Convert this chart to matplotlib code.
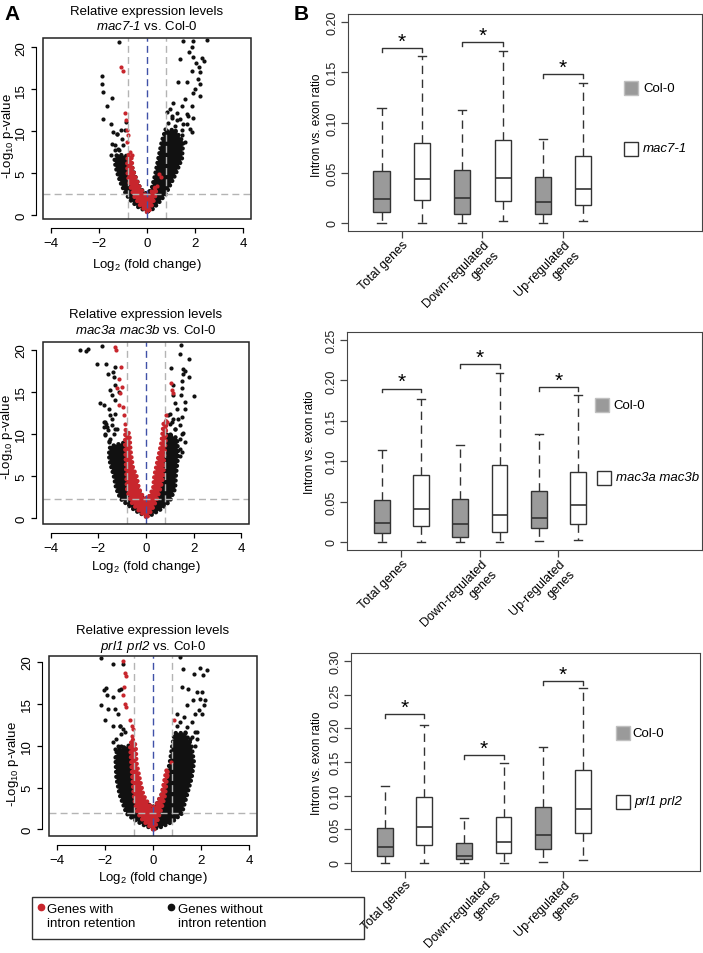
import matplotlib
matplotlib.use('Agg')
import matplotlib.pyplot as plt
from matplotlib.patches import Rectangle

plt.rcParams['font.family'] = ['Liberation Sans', 'DejaVu Sans']
plt.rcParams['mathtext.fontset'] = 'custom'
plt.rcParams['mathtext.rm'] = 'Liberation Sans'
plt.rcParams['mathtext.sf'] = 'Liberation Sans:italic'

# ---- volcano data (log2 fold change, -log10 p) ----
# scattered points
v1_black_x = [-1.16, -1.85, -1.87, -1.84, -1.44, -1.65, -1.83, -0.87, -1.26, -1.05, -1.33, -1.16, -0.91, -1.5,
              -1.49, -1.4, -1.26, -1.08, -1.46, -1.35, -1.19, -0.98, -1.3,
              1.51, 1.89, 2.5, 1.85, 1.74, 1.37, 1.89, 2.27, 2.37, 2.03, 2.17, 2.22, 1.85, 2.13, 2.2, 1.65, 1.3,
              2.0, 1.92, 2.2, 1.58, 1.09, 1.44, 1.85, 0.95, 1.23, 1.65, 1.02, 1.37, 1.92, 0.89, 1.65, 1.16, 1.44,
              0.82, 1.85, 1.02, 0.82, 1.02, 1.23, 1.51, 1.71, 0.75, 1.16, 1.44, 1.78, 0.88, 1.58]
v1_black_y = [20.6, 16.6, 15.6, 14.7, 13.9, 13.0, 11.5, 11.1, 9.7, 9.1, 8.3, 7.7, 10.1, 7.1,
              10.9, 9.9, 9.6, 10.1, 8.5, 7.7, 7.9, 8.3, 7.1,
              20.7, 20.8, 20.9, 20.0, 19.4, 18.6, 18.8, 18.7, 18.4, 18.1, 17.6, 17.0, 17.2, 16.2, 15.6, 15.8, 15.8,
              15.0, 14.6, 14.2, 13.8, 13.4, 13.0, 13.0, 12.6, 12.2, 12.0, 11.6, 11.4, 11.6, 11.0, 10.9, 10.6, 10.1,
              9.9, 9.9, 9.5, 12.3, 11.8, 11.3, 10.9, 11.8, 10.3, 9.9, 9.5, 10.3, 8.9, 8.7]
v1_red_x = [-1.09, -0.98, -0.91, -0.87, -0.84, -0.77, -0.82, -0.71, -0.64, 0.51, 0.57, 0.4]
v1_red_y = [17.6, 17.2, 12.2, 11.3, 10.1, 9.5, 8.7, 7.5, 7.1, 4.9, 4.5, 3.5]
# outlines of the dense point clouds
v1_benv_x = [0, -0.4, -0.7, -0.87, -1.05, -1.2, -1.3, -1.35, -1.2, -0.75, -0.6, -0.45, -0.3, -0.1, 0.05,
             0.2, 0.33, 0.47, 0.61, 0.75, 1.15, 1.5, 1.45, 1.16, 0.95, 0.78, 0.5, 0.2]
v1_benv_y = [0.4, 1.0, 1.8, 2.5, 3.5, 4.7, 5.7, 6.7, 7.2, 7.0, 5.5, 4.3, 3.3, 2.6, 2.6,
             3.2, 4.7, 6.7, 8.7, 10.0, 10.2, 8.7, 6.7, 4.7, 3.5, 2.5, 1.5, 0.6]
v1_renv_x = [0, -0.3, -0.55, -0.7, -0.8, -0.82, -0.8, -0.65, -0.6, -0.45, -0.3, -0.12, 0.05, 0.2, 0.35, 0.38,
             0.25, 0.08]
v1_renv_y = [0.35, 1.2, 2.3, 3.5, 4.8, 6.0, 7.2, 7.0, 5.5, 4.3, 3.3, 2.5, 2.2, 2.8, 3.3, 2.6, 1.5, 0.4]

v2_black_x = [-2.77, -2.53, -2.43, -2.04, -1.84, -1.66, -1.28, -1.38, -1.6, -1.35, -1.28, -1.49, -1.14, -1.42,
              -1.91, -1.77, -1.28, -1.56, -1.28, -1.49, -1.74, -1.66, -1.42, -1.77, -1.21, -1.6, -1.35, -1.7,
              -1.49, -1.56, -1.76, -1.63, -1.42, -1.7, -1.28, -1.56, -1.35, -1.49,
              1.47, 1.43, 1.82, 1.04, 1.54, 1.64, 1.57, 1.82, 1.5, 2.03, 1.15, 1.5, 1.15, 1.47, 1.64, 1.22, 1.29,
              1.64, 1.02, 1.5, 1.15, 1.02, 1.43, 1.22, 1.57, 1.02, 1.43, 1.64, 1.5, 1.43,
              0.94, 1.08, 1.22, 1.36, 1.5, 1.22, 1.43, 1.15]
v2_black_y = [19.9, 19.8, 20.1, 18.3, 20.4, 18.3, 17.9, 17.3, 17.1, 16.7, 15.8, 15.2, 15.0, 14.6,
              13.6, 13.4, 14.0, 13.0, 12.4, 12.2, 11.4, 11.2, 11.0, 10.8, 10.6, 10.4, 10.0, 9.8,
              9.4, 9.0, 11.4, 10.8, 11.8, 10.0, 10.6, 9.2, 8.6, 7.8,
              20.5, 19.5, 18.9, 17.8, 17.7, 17.5, 17.1, 16.7, 16.3, 14.5, 15.8, 15.4, 14.6, 14.6, 13.8, 13.6, 13.0,
              13.0, 12.4, 12.0, 11.8, 11.2, 11.0, 10.6, 10.1, 10.0, 9.4, 9.0, 7.8, 7.4,
              12.2, 11.4, 10.6, 11.8, 10.0, 9.0, 8.2, 7.4]
v2_red_x = [-1.28, -1.24, -1.04, -1.14, -1.21, -1.0, -1.07, -1.14, -0.96, -0.93, -0.86, -0.9, -0.79,
            1.04, 1.08, 1.13, 0.85, 0.88, 0.81, 0.74]
v2_red_y = [20.3, 19.9, 17.9, 16.5, 15.4, 15.6, 14.8, 13.4, 13.2, 12.2, 11.2, 10.0, 9.2,
            16.0, 15.2, 14.8, 12.2, 11.4, 10.6, 9.6]
v2_benv_x = [0, -0.4, -0.75, -1.07, -1.25, -1.35, -1.5, -1.56, -1.5, -0.85, -0.7, -0.55, -0.35, -0.15, 0,
             0.15, 0.35, 0.55, 0.7, 0.8, 0.9, 1.3, 1.35, 1.25, 1.22, 1.0, 0.6, 0.25]
v2_benv_y = [0.2, 0.8, 1.5, 2.3, 3.5, 5.0, 6.5, 7.5, 8.5, 9.0, 7.0, 5.0, 3.5, 2.5, 2.3,
             2.5, 3.5, 5.0, 7.0, 9.0, 10.0, 9.5, 7.5, 5.0, 3.5, 2.0, 1.0, 0.4]
v2_renv_x = [0, -0.35, -0.65, -0.8, -0.82, -0.85, -0.88, -0.85, -0.7, -0.65, -0.55, -0.4, -0.3, -0.12, 0,
             0.12, 0.3, 0.35, 0.5, 0.65, 0.75, 0.85, 0.82, 0.75, 0.73, 0.6, 0.45, 0.25, 0.06]
v2_renv_y = [0.15, 1.0, 2.0, 3.5, 5.0, 7.0, 9.0, 10.5, 10.0, 8.0, 6.0, 5.0, 3.5, 2.5, 2.3,
             2.5, 3.5, 5.0, 7.0, 9.0, 11.5, 11.5, 9.0, 7.0, 5.0, 3.5, 2.2, 1.0, 0.15]

v3_black_x = [-2.14, -1.68, -1.24, -1.96, -2.04, -1.4, -1.31, -1.93, -1.66, -2.14, -1.86, -1.59, -2.0, -1.45,
              -1.66, -1.38, -1.24, -1.66, -1.45, -1.59, -1.31, -1.45, -1.52,
              -1.52, -1.31, -1.45, -1.17, -1.38, -1.59,
              1.13, 1.24, 1.96, 2.24, 1.72, 2.07, 1.2, 1.47, 1.82, 2.03, 1.96, 2.17, 1.68, 2.13, 1.4, 1.89, 1.75,
              2.03, 1.27, 0.99, 1.13, 1.61, 1.4, 1.75, 1.2, 1.54, 1.82, 0.99, 1.34,
              0.99, 1.34, 1.62, 1.2, 1.76, 1.48, 1.83, 1.06]
v3_black_y = [20.5, 19.8, 19.8, 16.9, 16.7, 16.6, 16.8, 16.0, 15.8, 14.8, 14.4, 14.4, 13.1, 13.8,
              12.4, 12.4, 12.0, 10.4, 10.0, 9.6, 11.4, 8.6, 8.0,
              10.8, 10.0, 9.2, 11.6, 12.4, 8.7,
              20.6, 19.1, 19.3, 19.0, 18.6, 18.4, 17.0, 16.8, 16.4, 16.4, 15.6, 15.5, 15.4, 14.8, 14.8, 14.2, 13.8,
              13.8, 13.4, 13.8, 12.8, 12.8, 12.2, 11.6, 11.2, 10.8, 10.8, 10.4, 10.0,
              12.4, 11.6, 11.0, 10.4, 10.0, 9.2, 11.6, 8.8]
v3_red_x = [-1.24, -1.17, -1.13, -1.21, -1.24, -1.17, -1.13, -0.96, -0.89, -0.82, -0.89, -0.93, 0.88, 0.74, 0.57]
v3_red_y = [20.1, 18.7, 18.3, 17.0, 16.0, 15.0, 14.6, 13.0, 12.4, 12.0, 11.2, 10.4, 13.1, 8.0, 6.5]
v3_benv_x = [0, -0.45, -0.85, -1.1, -1.38, -1.52, -1.55, -1.5, -1.0, -0.85, -0.7, -0.5, -0.3, -0.1, 0,
             0.15, 0.35, 0.55, 0.7, 0.8, 0.9, 1.35, 1.6, 1.7, 1.6, 1.41, 1.2, 0.8, 0.35]
v3_benv_y = [0.05, 0.6, 1.3, 1.9, 4.1, 6.1, 8.1, 9.5, 10.0, 8.0, 6.0, 4.1, 3.2, 2.8, 2.7,
             3.0, 4.1, 6.0, 8.0, 10.0, 11.5, 11.5, 10.0, 8.0, 6.1, 4.1, 1.9, 0.9, 0.3]
v3_renv_x = [0, -0.4, -0.65, -0.75, -0.8, -0.85, -0.9, -0.95, -0.85, -0.72, -0.69, -0.55, -0.4, -0.22, -0.05,
             0.08, 0.2, 0.35, 0.45, 0.55, 0.62, 0.55, 0.5, 0.35, 0.2, 0.05]
v3_renv_y = [0.0, 1.0, 2.0, 3.2, 4.1, 6.0, 8.0, 10.0, 10.8, 10.0, 8.0, 6.0, 4.1, 3.2, 2.6,
             2.7, 3.3, 4.1, 5.5, 7.0, 7.2, 5.5, 4.1, 2.5, 1.2, 0.0]

fc_cut = 0.8
p_cut = [2.5, 2.2, 1.9]
mutants = ['mac7-1', 'mac3a mac3b', 'prl1 prl2']
mutant_tex = ['$\\mathsf{mac7}$-$\\mathsf{1}$', '$\\mathsf{mac3a\\ mac3b}$', '$\\mathsf{prl1\\ prl2}$']

# ---- box plot summaries: intron vs exon ratio ----
groups = ['Total genes', 'Down-regulated\ngenes', 'Up-regulated\ngenes']
b1_col = dict(lo=[0, 0, 0], q1=[0.0107, 0.009, 0.0093], med=[0.024, 0.0253, 0.021],
              q3=[0.0522, 0.0525, 0.0456], hi=[0.1147, 0.112, 0.0837])
b1_mut = dict(lo=[0, 0.0017, 0.0017], q1=[0.023, 0.022, 0.0183], med=[0.0435, 0.0449, 0.0342],
              q3=[0.080, 0.083, 0.0668], hi=[0.166, 0.171, 0.139])
b1_sig = [0.1745, 0.180, 0.148]
b2_col = dict(lo=[0, 0, 0.0017], q1=[0.0108, 0.0067, 0.017], med=[0.024, 0.0223, 0.0297],
              q3=[0.052, 0.0537, 0.0636], hi=[0.1139, 0.1205, 0.1333])
b2_mut = dict(lo=[0, 0, 0.0025], q1=[0.0194, 0.0124, 0.0223], med=[0.0405, 0.0339, 0.0463],
              q3=[0.0826, 0.0949, 0.0866], hi=[0.1766, 0.2088, 0.182])
b2_sig = [0.19, 0.2208, 0.192]
b3_col = dict(lo=[0, 0, 0.002], q1=[0.0104, 0.0055, 0.0213], med=[0.0232, 0.0109, 0.0417],
              q3=[0.052, 0.0298, 0.0828], hi=[0.114, 0.0664, 0.172])
b3_mut = dict(lo=[0, 0, 0.005], q1=[0.0268, 0.0149, 0.044], med=[0.0536, 0.0317, 0.0798],
              q3=[0.0977, 0.0689, 0.1374], hi=[0.2048, 0.1478, 0.26])
b3_sig = [0.2212, 0.161, 0.271]

W, H = 703, 954
fig = plt.figure(figsize=(W / 100, H / 100), dpi=100)
BLACK = '#111111'
RED = '#c8262d'
GREY = '#b4b4b4'


def rect(l, t, r, b):
    return [l / W, 1 - b / H, (r - l) / W, (b - t) / H]


def cloud(ax, ex, ey, color, z):
    # dense cloud: filled outline with a dotted, point-like rim
    ax.fill(ex, ey, color=color, lw=0, zorder=z)
    ax.plot(list(ex) + [ex[0]], list(ey) + [ey[0]], color=color, lw=3.2,
            ls=(0, (0.01, 1.1)), dash_capstyle='round', zorder=z)


def volcano(box, ylim, thr, bx, by, rx, ry, bex, bey, rex, rey):
    ax = fig.add_axes(rect(*box))
    cloud(ax, bex, bey, BLACK, 1)
    ax.scatter(bx, by, s=9, c=BLACK, lw=0, zorder=2)
    cloud(ax, rex, rey, RED, 3)
    ax.scatter(rx, ry, s=9, c=RED, lw=0, zorder=4)
    ax.axvline(0, color='#3f51a8', ls=(0, (5, 3)), lw=1, zorder=5)
    for v in (-fc_cut, fc_cut):
        ax.axvline(v, color=GREY, ls=(0, (5, 3)), lw=1, zorder=5)
    ax.axhline(thr, color=GREY, ls=(0, (5, 3)), lw=1, zorder=5)
    ax.set_xlim(-4.32, 4.32)
    ax.set_ylim(*ylim)
    for s in ('top', 'right'):
        ax.spines[s].set_visible(False)
    ax.spines['left'].set_position(('outward', 5))
    ax.spines['bottom'].set_position(('outward', 6.5))
    ax.spines['left'].set_bounds(0, 20)
    ax.spines['bottom'].set_bounds(-4, 4)
    ax.add_patch(Rectangle((0, 0), 1, 1, transform=ax.transAxes, fill=False, lw=1.1,
                           edgecolor='#222222', clip_on=False, zorder=10))
    ax.set_xticks([-4, -2, 0, 2, 4])
    ax.set_yticks([0, 5, 10, 15, 20])
    ax.tick_params(direction='out', length=3.5, width=0.9, labelsize=9.5, pad=3)
    for t in ax.get_yticklabels():
        t.set_rotation(90)
        t.set_va('center')
    return ax


def boxpanel(box, xlim, ylim, yticks, ylabels, col, mut, sig):
    ax = fig.add_axes(rect(*box))
    pos = [1, 2, 3]
    lines = '#333333'
    common = dict(widths=0.2, capwidths=0.1, patch_artist=True, showfliers=False, manage_ticks=False,
                  whiskerprops=dict(ls=(0, (6, 4)), color=lines, lw=1),
                  capprops=dict(color=lines, lw=1),
                  medianprops=dict(color=lines, lw=1.2))
    for d, off, face in ((col, -0.25, '#9a9a9a'), (mut, 0.25, 'white')):
        stats = [dict(med=d['med'][i], q1=d['q1'][i], q3=d['q3'][i], whislo=d['lo'][i], whishi=d['hi'][i])
                 for i in range(3)]
        ax.bxp(stats, positions=[p + off for p in pos],
               boxprops=dict(facecolor=face, edgecolor=lines, lw=1), **common)
    dy = (ylim[1] - ylim[0]) * 0.018
    for p, s in zip(pos, sig):
        ax.plot([p - 0.25, p - 0.25, p + 0.25, p + 0.25], [s - dy, s, s, s - dy], color=lines, lw=1)
        ax.annotate('*', (p, s), xytext=(0, -2), textcoords='offset points', ha='center', va='bottom',
                    fontsize=15)
    ax.set_xlim(*xlim)
    ax.set_ylim(*ylim)
    ax.set_yticks(yticks)
    ax.set_yticklabels(ylabels)
    ax.set_xticks(pos)
    ax.set_xticklabels([])
    for s in ax.spines.values():
        s.set_color('#444444')
    ax.tick_params(direction='out', length=5, width=0.9, labelsize=9, pad=1.5, colors='#444444',
                   labelcolor='#222222')
    for t in ax.get_yticklabels():
        t.set_rotation(90)
        t.set_va('center')
    # rotated group labels, one line at a time, stepped along the 45 degree normal
    step = 7.4
    for p, g in zip(pos, groups):
        for k, line in enumerate(g.split('\n')):
            ax.annotate(line, (p, ylim[0]), xytext=(0.5 + k * step, -5 - k * step), textcoords='offset points',
                        rotation=45, rotation_mode='anchor', ha='right', va='top', fontsize=9,
                        annotation_clip=False)
    return ax


volcano((43, 39, 251, 220), (-0.48, 21.1), p_cut[0], v1_black_x, v1_black_y, v1_red_x, v1_red_y,
        v1_benv_x, v1_benv_y, v1_renv_x, v1_renv_y)
volcano((43, 343, 249, 525), (-0.71, 20.9), p_cut[1], v2_black_x, v2_black_y, v2_red_x, v2_red_y,
        v2_benv_x, v2_benv_y, v2_renv_x, v2_renv_y)
volcano((49, 657, 257, 837), (-0.79, 20.7), p_cut[2], v3_black_x, v3_black_y, v3_red_x, v3_red_y,
        v3_benv_x, v3_benv_y, v3_renv_x, v3_renv_y)

boxpanel((348, 15, 702, 232), (0.335, 4.72), (-0.008, 0.208), [0, 0.05, 0.10, 0.15, 0.20],
         ['0', '0.05', '0.10', '0.15', '0.20'], b1_col, b1_mut, b1_sig)
boxpanel((347, 333, 702, 551), (0.306, 4.83), (-0.01, 0.26), [0, 0.05, 0.10, 0.15, 0.20, 0.25],
         ['0', '0.05', '0.10', '0.15', '0.20', '0.25'], b2_col, b2_mut, b2_sig)
boxpanel((351, 654, 700, 872), (0.324, 4.73), (-0.012, 0.312), [0, 0.05, 0.10, 0.15, 0.20, 0.25, 0.30],
         ['0', '0.05', '0.10', '0.15', '0.20', '0.25', '0.30'], b3_col, b3_mut, b3_sig)

# overlay in pixel coordinates for labels and legends
ov = fig.add_axes([0, 0, 1, 1])
ov.set_xlim(0, W)
ov.set_ylim(H, 0)
ov.axis('off')

ov.text(12, 15, 'A', fontsize=15, fontweight='bold', ha='center', va='center')
ov.text(301, 14, 'B', fontsize=15, fontweight='bold', ha='center', va='center')

for cx, y1, y2, xl_y, yl_x, yl_y, name in ((147, 12, 27, 265, 8, 136, mutant_tex[0]),
                                           (146, 315, 331, 567, 7, 437, mutant_tex[1]),
                                           (153, 631, 647, 878, 13, 764, mutant_tex[2])):
    ov.text(cx, y1, 'Relative expression levels', fontsize=9.5, ha='center', va='center')
    ov.text(cx, y2, name + ' vs. Col-0', fontsize=9.5, ha='center', va='center')
    ov.text(cx, xl_y, 'Log$_2$ (fold change)', fontsize=9.5, ha='center', va='center')
    ov.text(yl_x, yl_y, '-Log$_{10}$ p-value', fontsize=9.5, ha='center', va='center', rotation=90)

for x, y in ((317, 125), (310, 442), (317, 763)):
    ov.text(x, y, 'Intron vs. exon ratio', fontsize=8.5, ha='center', va='center', rotation=90)

for (gx, gy, tx), (wx, wy, wtx), name in (((624, 89, 643), (624, 149.5, 643), mutants[0]),
                                          ((595, 406, 613), (597, 478.5, 616), mutants[1]),
                                          ((616, 734, 632), (616, 802.5, 634), mutants[2])):
    ov.add_patch(Rectangle((gx, gy - 7), 14, 14, facecolor='#9a9a9a', edgecolor='#c0c0c0', lw=1))
    ov.text(tx, gy, 'Col-0', fontsize=9.5, ha='left', va='center')
    ov.add_patch(Rectangle((wx, wy - 7), 14, 14, facecolor='white', edgecolor='#333333', lw=1))
    ov.text(wtx, wy, name, fontsize=9.5, ha='left', va='center', fontstyle='italic')

ov.add_patch(Rectangle((32, 898), 332, 42, fill=False, edgecolor='#333333', lw=1))
ov.plot(41, 908, 'o', color=RED, ms=4.5)
ov.text(47, 917, 'Genes with\nintron retention', fontsize=9.5, ha='left', va='center', linespacing=1.25)
ov.plot(171, 908, 'o', color=BLACK, ms=4.5)
ov.text(178, 917, 'Genes without\nintron retention', fontsize=9.5, ha='left', va='center', linespacing=1.25)

fig.savefig('out.png', dpi=100)
